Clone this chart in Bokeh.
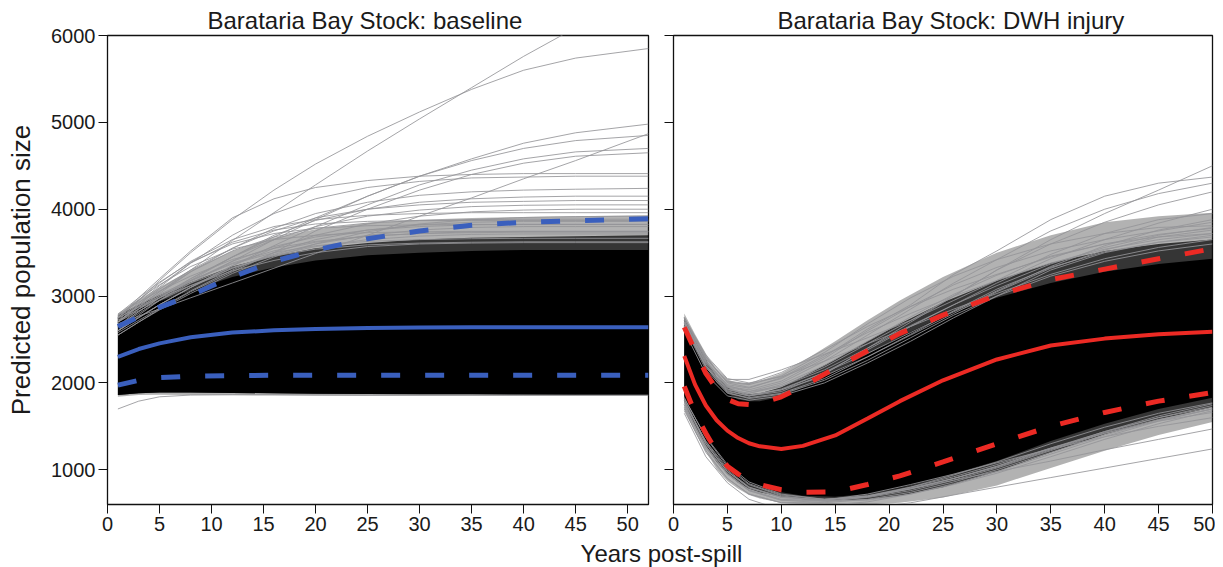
from bokeh.plotting import figure
from bokeh.layouts import column, row
from bokeh.models import Range1d, FixedTicker, Label
from bokeh.embed import file_html
from bokeh.resources import INLINE

# ---------------- data ----------------
x_ticks = [0, 5, 10, 15, 20, 25, 30, 35, 40, 45, 50]
y_ticks = [1000, 2000, 3000, 4000, 5000, 6000]

# Baseline panel
X_L = [1, 3, 5, 8, 12, 16, 20, 25, 30, 35, 40, 45, 52]
base_median = [2300, 2390, 2455, 2525, 2580, 2605, 2620, 2632, 2638, 2640, 2640, 2640, 2640]
base_upper = [2650, 2760, 2870, 3010, 3220, 3400, 3530, 3660, 3750, 3815, 3850, 3868, 3890]
base_lower = [1975, 2030, 2060, 2078, 2085, 2088, 2088, 2088, 2088, 2088, 2088, 2088, 2088]
base_core_top = [2760, 2850, 2940, 3060, 3220, 3330, 3410, 3470, 3500, 3520, 3530, 3530, 3530]
base_core_bot = [1860, 1880, 1890, 1890, 1885, 1880, 1875, 1872, 1870, 1868, 1866, 1865, 1865]
base_inner_top = [2780, 2900, 3010, 3160, 3340, 3460, 3550, 3610, 3650, 3670, 3680, 3690, 3700]
base_outer_top = [2800, 2960, 3100, 3300, 3520, 3670, 3770, 3840, 3880, 3900, 3910, 3920, 3930]
base_outer_bot = [1840, 1860, 1865, 1862, 1858, 1855, 1852, 1850, 1850, 1848, 1848, 1848, 1848]
base_traj = [
    [2700, 2880, 3050, 3300, 3640, 3960, 4280, 4670, 5040, 5400, 5760, 6090, 6600],
    [2750, 2950, 3180, 3500, 3880, 4220, 4520, 4840, 5120, 5380, 5600, 5740, 5850],
    [2700, 2850, 3000, 3200, 3450, 3680, 3900, 4150, 4380, 4580, 4760, 4880, 4980],
    [2650, 2800, 2950, 3150, 3400, 3650, 3880, 4150, 4380, 4560, 4700, 4790, 4850],
    [2680, 2770, 2850, 2980, 3150, 3320, 3490, 3700, 3920, 4130, 4350, 4560, 4870],
    [2600, 2750, 2900, 3100, 3350, 3580, 3800, 4050, 4280, 4450, 4580, 4660, 4700],
    [2550, 2700, 2850, 3050, 3280, 3500, 3750, 4000, 4220, 4400, 4530, 4610, 4650],
    [2750, 2980, 3200, 3520, 3900, 4120, 4250, 4330, 4380, 4400, 4410, 4410, 4410],
    [2700, 2900, 3100, 3380, 3700, 3950, 4120, 4250, 4320, 4360, 4370, 4380, 4380],
    [2650, 2850, 3030, 3280, 3550, 3780, 3950, 4080, 4160, 4200, 4220, 4230, 4240],
    [2600, 2780, 2950, 3180, 3450, 3700, 3870, 4000, 4080, 4120, 4140, 4150, 4150],
    [2700, 2900, 3080, 3300, 3550, 3750, 3900, 4000, 4050, 4080, 4090, 4100, 4100],
    [2650, 2820, 2980, 3200, 3450, 3650, 3800, 3920, 3990, 4030, 4045, 4050, 4050],
    [2600, 2760, 2900, 3100, 3350, 3550, 3700, 3830, 3920, 3970, 3990, 4000, 4000],
    [2750, 2950, 3150, 3400, 3650, 3800, 3880, 3930, 3950, 3960, 3960, 3960, 3960],
    [2550, 2700, 2840, 3030, 3260, 3450, 3600, 3740, 3830, 3880, 3905, 3915, 3920],
    [2700, 2880, 3050, 3280, 3520, 3680, 3780, 3840, 3870, 3880, 3885, 3885, 3885],
    [2600, 2750, 2900, 3100, 3320, 3480, 3600, 3700, 3760, 3790, 3800, 3800, 3800],
    [2650, 2820, 2980, 3180, 3380, 3520, 3620, 3690, 3720, 3740, 3745, 3745, 3745],
    [2720, 2920, 3120, 3380, 3620, 3760, 3830, 3860, 3870, 3870, 3870, 3870, 3870],
    [2580, 2720, 2860, 3060, 3300, 3500, 3650, 3760, 3820, 3850, 3860, 3860, 3860],
    [2760, 2900, 3020, 3180, 3370, 3500, 3580, 3630, 3650, 3660, 3665, 3665, 3665],
    [2740, 2880, 3000, 3150, 3330, 3460, 3540, 3590, 3610, 3620, 3625, 3625, 3625],
    [2780, 2930, 3060, 3230, 3420, 3550, 3630, 3690, 3720, 3730, 3735, 3735, 3735],
    [2720, 2850, 2980, 3170, 3400, 3570, 3680, 3760, 3800, 3820, 3825, 3825, 3825],
    [2770, 2960, 3130, 3340, 3540, 3650, 3700, 3730, 3740, 3745, 3745, 3745, 3745],
    [2700, 2830, 2950, 3120, 3320, 3470, 3570, 3650, 3690, 3710, 3715, 3715, 3715],
    [2790, 2980, 3160, 3390, 3600, 3720, 3780, 3810, 3820, 3825, 3825, 3825, 3825],
    [2750, 2870, 2980, 3120, 3290, 3410, 3500, 3570, 3600, 3610, 3615, 3615, 3615],
    [1700, 1790, 1840, 1860, 1865, 1865, 1862, 1860, 1860, 1860, 1858, 1858, 1858],
]

# DWH injury panel
X_R = [1, 2, 3, 4, 5, 6, 7, 8, 10, 12, 15, 18, 21, 25, 30, 35, 40, 45, 50]
dwh_median = [2310, 1980, 1740, 1570, 1450, 1365, 1305, 1270, 1240, 1275, 1395, 1590, 1790, 2030, 2270, 2430, 2510, 2560, 2590]
dwh_upper = [2640, 2370, 2110, 1930, 1810, 1760, 1750, 1765, 1840, 1960, 2170, 2370, 2570, 2780, 3010, 3190, 3310, 3430, 3545]
dwh_lower = [1960, 1650, 1420, 1210, 1040, 950, 880, 830, 770, 740, 745, 830, 930, 1090, 1300, 1500, 1660, 1790, 1890]
dwh_core_top = [2720, 2450, 2200, 2000, 1880, 1810, 1790, 1790, 1840, 1950, 2130, 2330, 2530, 2770, 2980, 3150, 3280, 3370, 3430]
dwh_core_bot = [1850, 1560, 1340, 1150, 1000, 900, 830, 790, 740, 700, 690, 720, 790, 920, 1100, 1330, 1530, 1700, 1830]
dwh_inner_top = [2760, 2500, 2270, 2070, 1950, 1890, 1870, 1880, 1950, 2070, 2270, 2480, 2680, 2930, 3180, 3380, 3520, 3600, 3650]
dwh_outer_top = [2800, 2560, 2340, 2150, 2040, 2000, 2000, 2020, 2110, 2250, 2480, 2720, 2950, 3220, 3500, 3700, 3850, 3920, 3960]
dwh_inner_bot = [1780, 1500, 1280, 1090, 950, 850, 780, 740, 690, 660, 650, 660, 700, 800, 980, 1200, 1410, 1580, 1720]
dwh_outer_bot = [1700, 1430, 1210, 1010, 870, 780, 710, 670, 620, 600, 590, 600, 620, 680, 820, 1020, 1220, 1400, 1550]
X_Rg = [1, 3, 5, 7, 10, 14, 18, 22, 26, 30, 35, 40, 45, 50]
dwh_traj = [
    [2700, 2250, 1950, 1850, 1900, 2100, 2400, 2700, 3000, 3300, 3650, 3950, 4220, 4500],
    [2750, 2300, 2000, 1950, 2050, 2300, 2620, 2900, 3250, 3520, 3880, 4150, 4300, 4370],
    [2700, 2250, 1950, 1900, 2000, 2250, 2550, 2850, 3150, 3420, 3750, 4000, 4180, 4300],
    [2680, 2200, 1930, 1880, 1960, 2180, 2450, 2720, 3000, 3300, 3600, 3850, 4050, 4200],
    [2650, 2180, 1900, 1850, 1920, 2120, 2380, 2650, 2900, 3150, 3430, 3650, 3840, 4000],
    [2700, 2230, 1960, 1920, 2020, 2280, 2600, 2880, 3130, 3330, 3520, 3650, 3750, 3850],
    [2720, 2280, 2010, 1980, 2080, 2350, 2680, 2980, 3230, 3420, 3600, 3720, 3790, 3810],
    [2650, 2150, 1880, 1830, 1880, 2050, 2300, 2550, 2800, 3050, 3320, 3530, 3680, 3760],
    [2600, 2100, 1850, 1800, 1850, 2000, 2230, 2480, 2750, 3000, 3300, 3500, 3620, 3700],
    [2750, 2320, 2050, 2000, 2070, 2250, 2450, 2650, 2850, 3030, 3250, 3430, 3560, 3650],
    [2700, 2280, 2020, 1990, 2120, 2380, 2650, 2880, 3080, 3250, 3450, 3600, 3710, 3780],
    [2740, 2300, 2040, 2040, 2150, 2330, 2520, 2720, 2950, 3180, 3480, 3720, 3880, 3950],
    [2690, 2240, 1980, 1940, 2060, 2320, 2580, 2800, 3000, 3180, 3380, 3540, 3650, 3720],
    [2720, 2220, 1930, 1860, 1920, 2080, 2300, 2560, 2830, 3080, 3330, 3510, 3620, 3680],
    [2680, 2180, 1890, 1820, 1870, 2030, 2260, 2520, 2780, 3000, 3230, 3400, 3520, 3600],
    [2750, 2260, 1970, 1900, 1960, 2150, 2400, 2660, 2900, 3120, 3370, 3560, 3700, 3790],
    [2700, 2200, 1910, 1850, 1930, 2120, 2340, 2580, 2820, 3060, 3340, 3580, 3760, 3880],
    [2660, 2190, 1920, 1880, 1980, 2200, 2480, 2760, 3020, 3240, 3460, 3600, 3680, 3720],
    [1650, 1150, 850, 660, 540, 500, 560, 620, 710, 800, 910, 1020, 1130, 1240],
    [1700, 1200, 900, 720, 620, 630, 690, 780, 880, 980, 1100, 1230, 1350, 1470],
    [1750, 1250, 950, 760, 650, 650, 720, 830, 950, 1080, 1240, 1380, 1500, 1600],
    [1800, 1300, 980, 800, 680, 660, 700, 800, 920, 1060, 1250, 1420, 1560, 1660],
    [1680, 1220, 900, 720, 620, 590, 630, 720, 840, 980, 1180, 1380, 1560, 1700],
    [1780, 1330, 1020, 830, 700, 640, 650, 720, 830, 960, 1150, 1350, 1530, 1680],
    [1820, 1380, 1060, 860, 720, 660, 690, 780, 900, 1040, 1240, 1440, 1620, 1760],
    [1800, 1320, 1000, 800, 690, 650, 690, 780, 900, 1040, 1250, 1440, 1600, 1720],
    [1750, 1270, 960, 770, 660, 640, 680, 760, 880, 1020, 1220, 1420, 1580, 1700],
    [1830, 1370, 1040, 840, 710, 660, 690, 800, 940, 1090, 1300, 1490, 1650, 1770],
    [1720, 1260, 950, 760, 650, 620, 660, 740, 860, 1000, 1200, 1400, 1570, 1700],
    [1780, 1300, 980, 790, 680, 650, 700, 790, 900, 1030, 1230, 1430, 1600, 1740],
]

FONT = "Liberation Sans"
BLUE = "#3a5fbd"
RED = "#ec2a24"
GREY = "#949498"


def style(p):
    p.xgrid.visible = False
    p.ygrid.visible = False
    p.outline_line_color = "#111111"
    p.outline_line_width = 1.3
    p.title.align = "left"
    p.title.text_font = FONT
    p.title.text_font_size = "24px"
    p.title.text_font_style = "normal"
    p.title.text_color = "#1a1a1a"
    p.title.standoff = 4
    for ax in (p.xaxis[0], p.yaxis[0]):
        ax.major_tick_out = 9
        ax.major_tick_in = 0
        ax.minor_tick_out = 0
        ax.minor_tick_in = 0
        ax.axis_line_color = "#111111"
        ax.major_tick_line_color = "#111111"
        ax.major_label_text_font = FONT
        ax.major_label_text_font_size = "20px"
        ax.major_label_text_color = "#1a1a1a"
        ax.major_label_standoff = 3
    p.xaxis.ticker = FixedTicker(ticks=x_ticks)
    p.yaxis.ticker = FixedTicker(ticks=y_ticks)


def draw(p, X, core_top, core_bot, inner_top, outer_top, inner_bot, outer_bot,
         Xg, traj, med, up, lo, color):
    p.varea(x=X, y1=outer_bot, y2=outer_top, fill_color="#000000", fill_alpha=0.3)
    p.varea(x=X, y1=inner_bot, y2=inner_top, fill_color="#000000", fill_alpha=0.7)
    p.varea(x=X, y1=core_bot, y2=core_top, fill_color="#000000")
    for t in traj:
        p.line(Xg, t, line_color=GREY, line_alpha=0.85, line_width=1)
    p.line(X, up, line_color=color, line_width=5, line_dash="19 25")
    p.line(X, lo, line_color=color, line_width=5, line_dash="19 25")
    p.line(X, med, line_color=color, line_width=4)


p1 = figure(width=653, height=534, x_range=Range1d(0, 52), y_range=Range1d(600, 6000),
            output_backend="svg", toolbar_location=None,
            min_border_left=107, min_border_right=5, min_border_top=35, min_border_bottom=30,
            title="Barataria Bay Stock: baseline")
style(p1)
p1.yaxis.axis_label = "Predicted population size"
p1.yaxis.axis_label_text_font = FONT
p1.yaxis.axis_label_text_font_size = "26px"
p1.yaxis.axis_label_text_font_style = "normal"
p1.yaxis.axis_label_text_color = "#1a1a1a"
p1.yaxis.axis_label_standoff = 12
p1.title.offset = 100
draw(p1, X_L, base_core_top, base_core_bot, base_inner_top, base_outer_top,
     base_core_bot, base_outer_bot, X_L, base_traj,
     base_median, base_upper, base_lower, BLUE)

p2 = figure(width=562, height=534, x_range=Range1d(0, 50), y_range=Range1d(600, 6000),
            output_backend="svg", toolbar_location=None,
            min_border_left=20, min_border_right=3, min_border_top=35, min_border_bottom=30,
            title="Barataria Bay Stock: DWH injury")
style(p2)
p2.yaxis.major_label_overrides = {t: "" for t in y_ticks}
p2.title.offset = 104
draw(p2, X_R, dwh_core_top, dwh_core_bot, dwh_inner_top, dwh_outer_top,
     dwh_inner_bot, dwh_outer_bot, X_Rg, dwh_traj,
     dwh_median, dwh_upper, dwh_lower, RED)

p3 = figure(width=1215, height=33, x_range=Range1d(0, 1), y_range=Range1d(0, 1),
            output_backend="svg", toolbar_location=None, min_border=0,
            x_axis_location=None, y_axis_location=None)
p3.outline_line_color = None
p3.xgrid.visible = False
p3.ygrid.visible = False
p3.add_layout(Label(x=661, y=14, x_units="screen", y_units="screen", text="Years post-spill",
                    text_align="center", text_baseline="middle", text_font=FONT,
                    text_font_size="24px", text_color="#1a1a1a"))

layout = column(row(p1, p2), p3)
open("out.html", "w").write(file_html(layout, INLINE))
